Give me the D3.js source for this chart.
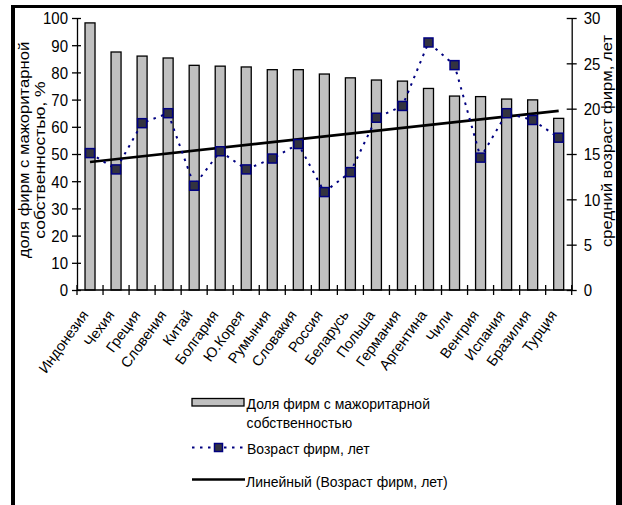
<!DOCTYPE html>
<html><head><meta charset="utf-8">
<script src="https://cdn.jsdelivr.net/npm/d3@7"></script>
<style>body{margin:0;background:#fff}svg{display:block;font-family:"Liberation Sans",Arial,sans-serif}</style>
</head><body><svg id="c" width="622" height="505"></svg>
<script>
const countries = ["Индонезия","Чехия","Греция","Словения","Китай","Болгария","Ю.Корея","Румыния","Словакия","Россия","Беларусь","Польша","Германия","Аргентина","Чили","Венгрия","Испания","Бразилия","Турция"];
const shareValues = [98.2,87.5,86.0,85.3,82.6,82.3,82.0,81.0,81.0,79.4,78.0,77.2,76.8,74.1,71.3,71.1,70.2,69.9,63.1];
const ageValues = [15.1,13.3,18.4,19.5,11.5,15.3,13.3,14.5,16.1,10.8,13.0,19.0,20.3,27.3,24.8,14.6,19.5,18.75,16.8];
const leftTicks = [0,10,20,30,40,50,60,70,80,90,100];
const rightTicks = [0,5,10,15,20,25,30];
const leftTitle = ["доля фирм с мажоритарной","собственностью, %"];
const rightTitle = "средний возраст фирм, лет";
const legendLabels = ["Доля фирм с мажоритарной","собственностью","Возраст фирм, лет","Линейный (Возраст фирм, лет)"];

const svg = d3.select("#c");
const X0 = 77, X1 = 571.7, Y0 = 290, Y1 = 18;
const x = d3.scaleBand().domain(countries).range([X0, X1]).padding(0);
const step = x.step();
const cx = c => x(c) + step / 2;
const barW = 11;
const yL = d3.scaleLinear().domain([0, 100]).range([Y0, Y1]);
const yR = d3.scaleLinear().domain([0, 30]).range([Y0, Y1]);
const data = countries.map((c, i) => ({c, share: shareValues[i], age: ageValues[i], i}));

// frame
svg.append("line").attr("x1",13).attr("x2",13).attr("y1",5).attr("y2",505).attr("stroke","#000").attr("stroke-width",4);
svg.append("line").attr("x1",11).attr("x2",622).attr("y1",6.5).attr("y2",6.5).attr("stroke","#000").attr("stroke-width",3);
svg.append("line").attr("x1",619).attr("x2",619).attr("y1",5).attr("y2",505).attr("stroke","#000").attr("stroke-width",6);

// bars
svg.append("g").selectAll("rect").data(data).join("rect")
  .attr("x", d => cx(d.c) - barW/2 + 0.5)
  .attr("y", d => yL(d.share))
  .attr("width", barW - 1)
  .attr("height", d => Y0 - yL(d.share))
  .attr("fill", "#c0c0c0").attr("stroke", "#000").attr("stroke-width", 1.3);

// left axis
const gl = svg.append("g").attr("transform", `translate(${X0},0)`)
  .call(d3.axisLeft(yL).tickValues(leftTicks).tickSizeOuter(0));
gl.select(".domain").attr("stroke","#000").attr("stroke-width",1.3);
gl.selectAll(".tick line").attr("x1",4).attr("x2",-5).attr("stroke","#000").attr("stroke-width",1.3);
gl.selectAll(".tick text").attr("x",null).attr("dy",null)
  .attr("transform","translate(-9,0) scale(1,1.1) translate(0,5.3)")
  .style("font-size","15px").style("font-family","'Liberation Sans',Arial,sans-serif").attr("fill","#000");

// right axis
const gr = svg.append("g").attr("transform", `translate(${X1},0)`)
  .call(d3.axisRight(yR).tickValues(rightTicks).tickSizeOuter(0));
gr.select(".domain").attr("stroke","#000").attr("stroke-width",1.3);
gr.selectAll(".tick line").attr("x1",-5).attr("x2",5).attr("stroke","#000").attr("stroke-width",1.3);
gr.selectAll(".tick text").attr("x",null).attr("dy",null)
  .attr("transform","translate(12,0) scale(1,1.1) translate(0,5.3)")
  .style("font-size","15px").style("font-family","'Liberation Sans',Arial,sans-serif").attr("fill","#000");

// x axis
svg.append("line").attr("x1",X0).attr("x2",X1).attr("y1",Y0).attr("y2",Y0).attr("stroke","#000").attr("stroke-width",1.3);
const bounds = countries.map(c => x(c)).concat([x(countries[countries.length-1]) + step]);
svg.append("g").selectAll("line").data(bounds).join("line")
  .attr("x1", d => d).attr("x2", d => d).attr("y1", Y0-5).attr("y2", Y0+5)
  .attr("stroke","#000").attr("stroke-width",1.3);
svg.append("g").selectAll("text").data(countries).join("text")
  .attr("transform", c => `translate(${cx(c)-1},${Y0+25}) rotate(-54)`)
  .attr("text-anchor","end").style("font-size","14.5px").attr("fill","#000")
  .text(c => c);

// trend line (least squares on the age series)
const n = ageValues.length;
const xm = d3.mean(data, d => d.i), ym = d3.mean(ageValues);
const slope = d3.sum(data, d => (d.i - xm) * (d.age - ym)) / d3.sum(data, d => (d.i - xm) ** 2);
const icpt = ym - slope * xm;
const tr = [data[0], data[n-1]].map(d => [cx(d.c), yR(icpt + slope * d.i)]);
svg.append("path").attr("d", d3.line()(tr)).attr("stroke","#000").attr("stroke-width",2.6).attr("fill","none");

// age dotted line
svg.append("path").datum(data)
  .attr("d", d3.line().x(d => cx(d.c)).y(d => yR(d.age)))
  .attr("fill","none").attr("stroke","#000080").attr("stroke-width",2).attr("stroke-dasharray","2.5,5.5");
svg.append("g").selectAll("rect").data(data).join("rect")
  .attr("x", d => cx(d.c) - 4.5).attr("y", d => yR(d.age) - 4.5)
  .attr("width", 9).attr("height", 9)
  .attr("fill","#333340").attr("stroke","#000080").attr("stroke-width",1.5);

// axis titles
const tl = svg.append("g").style("font-size","14px").attr("fill","#000");
tl.append("text").attr("text-anchor","middle").attr("transform","translate(28.5,150) rotate(-90) scale(1.19,1)").text(leftTitle[0]);
tl.append("text").attr("text-anchor","middle").attr("transform","translate(45,160) rotate(-90) scale(1.25,1)").text(leftTitle[1]);
tl.append("text").attr("text-anchor","middle").attr("transform","translate(612,141) rotate(-90) scale(1.19,1)").text(rightTitle);

// legend
const lg = svg.append("g").style("font-size","14px").attr("fill","#000");
lg.append("rect").attr("x",192).attr("y",398.5).attr("width",52).attr("height",7.5)
  .attr("fill","#c0c0c0").attr("stroke","#000").attr("stroke-width",1.3);
lg.append("line").attr("x1",192).attr("x2",244).attr("y1",447.5).attr("y2",447.5)
  .attr("stroke","#000080").attr("stroke-width",2).attr("stroke-dasharray","2.5,5.5");
lg.append("rect").attr("x",214.5).attr("y",443.5).attr("width",8).attr("height",8)
  .attr("fill","#333340").attr("stroke","#000080").attr("stroke-width",1.5);
lg.append("line").attr("x1",192).attr("x2",245).attr("y1",479.5).attr("y2",479.5)
  .attr("stroke","#000").attr("stroke-width",2.6);
const ly = [409, 427.5, 454, 487];
const lx = [246.5, 246.5, 247, 246];
legendLabels.forEach((t, i) => {
  lg.append("text").attr("transform", `translate(${lx[i]},${ly[i]}) scale(1,1.1)`).text(t);
});
</script></body></html>
